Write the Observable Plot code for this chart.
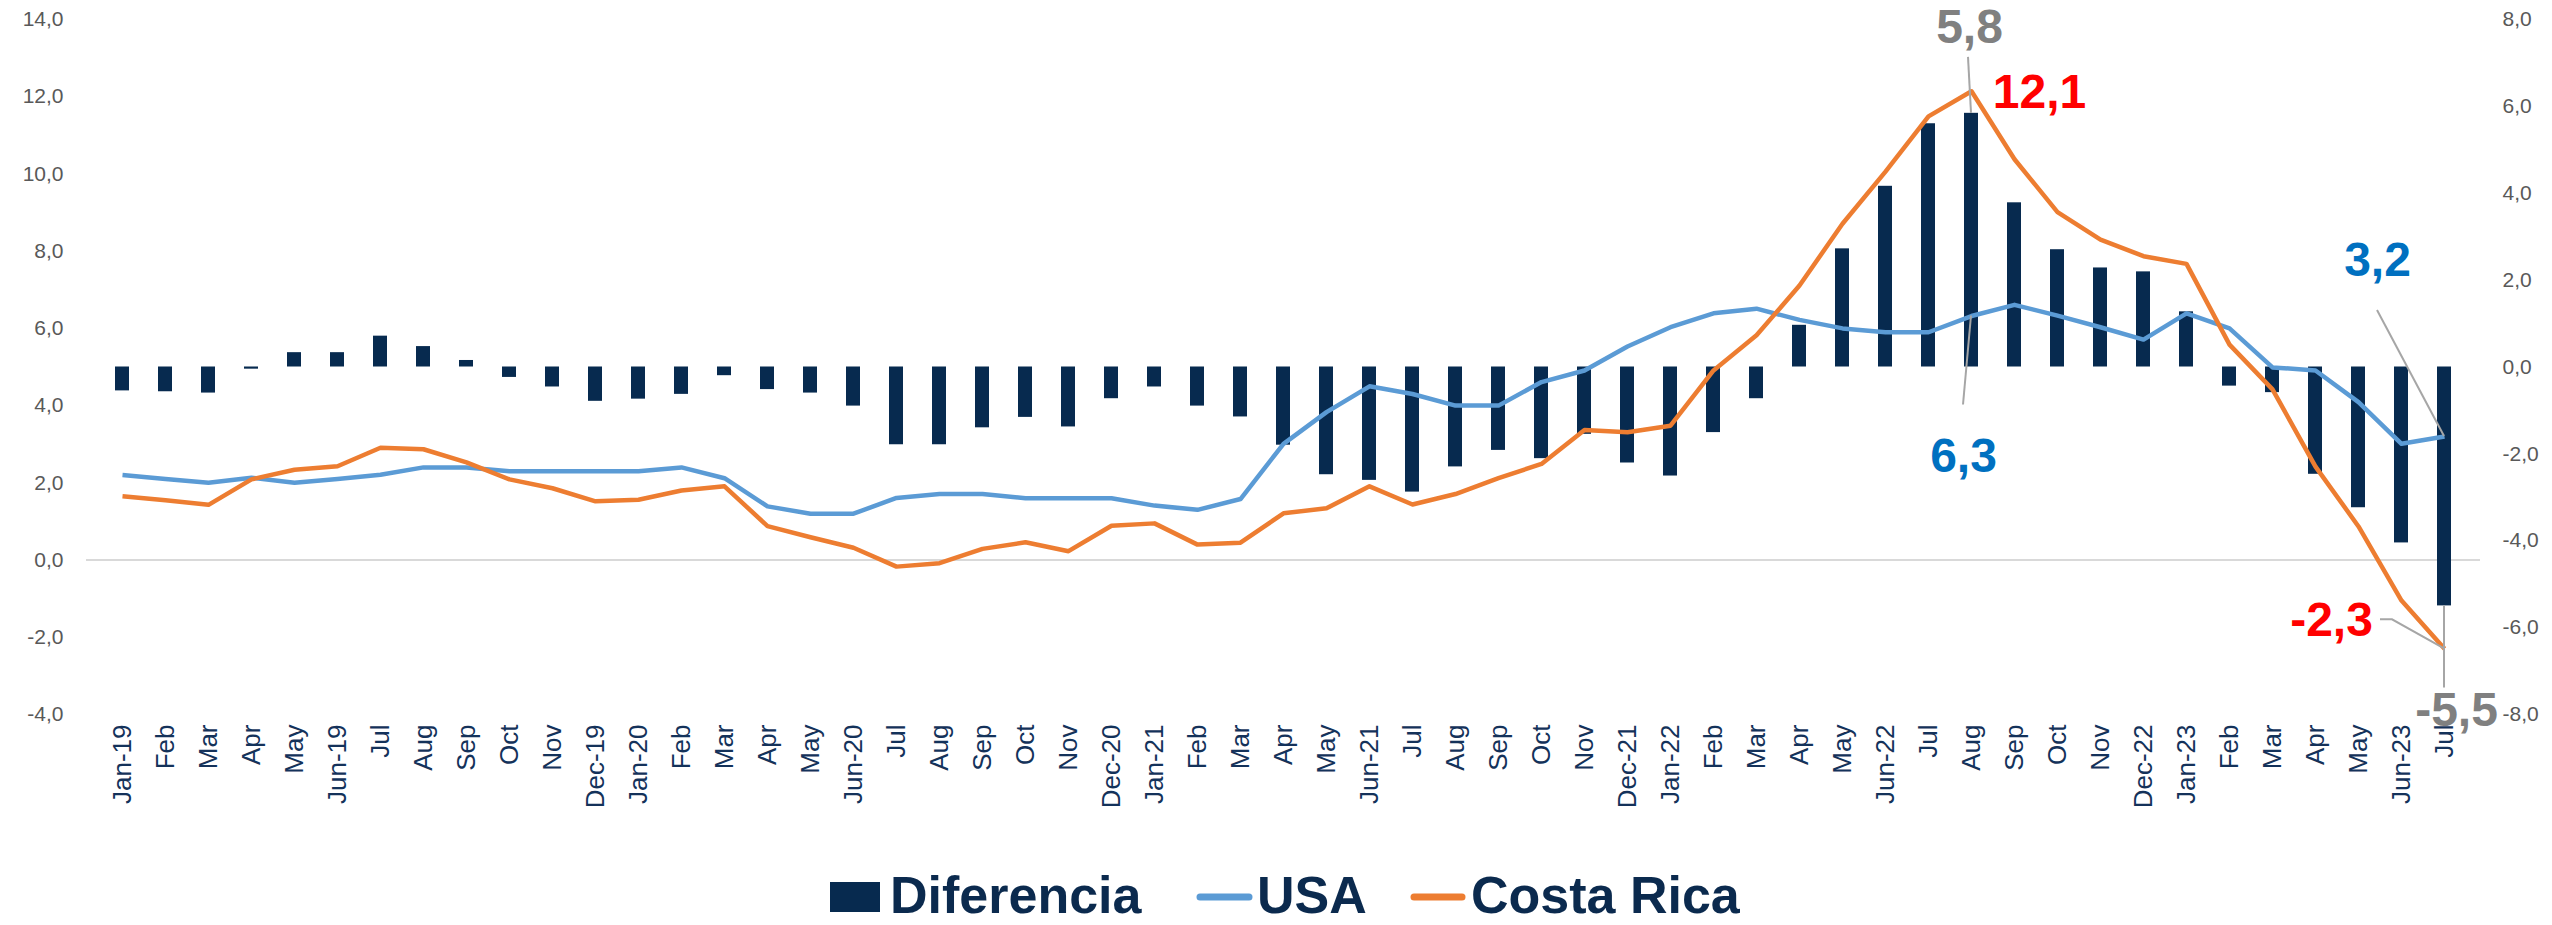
<!DOCTYPE html>
<html>
<head>
<meta charset="utf-8">
<script src="https://cdn.jsdelivr.net/npm/d3@7"></script>
<script src="https://cdn.jsdelivr.net/npm/@observablehq/plot@0.6"></script>
<style>
  body { margin: 0; background: #ffffff; }
  #chart { position: relative; width: 2552px; height: 925px; background: #ffffff; }
  #chart svg { display: block; }
</style>
</head>
<body>
<div id="chart"></div>
<script>
// ---------------- data ----------------
const months = ["Jan-19","Feb","Mar","Apr","May","Jun-19","Jul","Aug","Sep","Oct","Nov","Dec-19",
  "Jan-20","Feb","Mar","Apr","May","Jun-20","Jul","Aug","Sep","Oct","Nov","Dec-20",
  "Jan-21","Feb","Mar","Apr","May","Jun-21","Jul","Aug","Sep","Oct","Nov","Dec-21",
  "Jan-22","Feb","Mar","Apr","May","Jun-22","Jul","Aug","Sep","Oct","Nov","Dec-22",
  "Jan-23","Feb","Mar","Apr","May","Jun-23","Jul"];

const usa = [2.2,2.1,2.0,2.13,2.0,2.1,2.21,2.4,2.4,2.3,2.3,2.3,
  2.3,2.4,2.12,1.39,1.2,1.2,1.61,1.71,1.71,1.6,1.6,1.6,
  1.41,1.3,1.58,3.01,3.83,4.5,4.3,4.0,4.0,4.61,4.91,5.53,
  6.03,6.39,6.51,6.22,6.0,5.9,5.9,6.32,6.61,6.33,6.03,5.71,
  6.39,6.0,4.99,4.91,4.09,3.01,3.2];

const costaRica = [1.65,1.55,1.43,2.09,2.34,2.43,2.91,2.87,2.53,2.09,1.86,1.52,
  1.56,1.8,1.91,0.88,0.59,0.32,-0.17,-0.08,0.29,0.46,0.23,0.89,
  0.95,0.4,0.45,1.21,1.34,1.91,1.44,1.71,2.12,2.49,3.37,3.31,
  3.48,4.91,5.82,7.11,8.71,10.06,11.49,12.14,10.38,9.01,8.3,7.87,
  7.67,5.58,4.42,2.42,0.87,-1.05,-2.3];

const diferencia = [-0.55,-0.57,-0.6,-0.05,0.33,0.33,0.71,0.47,0.15,-0.24,-0.46,-0.79,
  -0.74,-0.63,-0.2,-0.52,-0.6,-0.9,-1.79,-1.79,-1.4,-1.16,-1.38,-0.73,
  -0.46,-0.9,-1.15,-1.8,-2.48,-2.61,-2.88,-2.3,-1.92,-2.11,-1.55,-2.21,
  -2.51,-1.51,-0.73,0.96,2.72,4.16,5.6,5.84,3.78,2.7,2.28,2.19,
  1.27,-0.44,-0.59,-2.47,-3.24,-4.05,-5.5];

const seriesNames = ["Diferencia", "USA", "Costa Rica"];
const leftTicks = [-4, -2, 0, 2, 4, 6, 8, 10, 12, 14];
const rightTicks = [-8, -6, -4, -2, 0, 2, 4, 6, 8];

// ---------------- helpers ----------------
const fmt = v => (Math.round(v * 10) / 10).toFixed(1).replace(".", ",");
// right axis (-8..8) mapped onto left axis (-4..14): right 0 sits at left 5
const toLeft = r => 5 + r * 18 / 16;
const fromLeft = l => (l - 5) * 16 / 18;

const rows = months.map((m, i) => ({i, m, usa: usa[i], cr: costaRica[i], dif: diferencia[i]}));

const NAVY = "#072a4f";
const BLUE = "#5b9bd5";
const ORANGE = "#ed7d31";
const last = months.length - 1;
const peak = 43; // Aug-22

// annotations: anchored on a data point, with a pixel layout kept separately
const annots = [
  {i: peak, v: toLeft(diferencia[peak]), t: fmt(diferencia[peak]), color: "#808080", dx: -2, dy: -86, leader: [[-3, -56], [0, 0]]},
  {i: peak, v: costaRica[peak], t: fmt(costaRica[peak]), color: "#ff0000", dx: 68, dy: 1, leader: null},
  {i: peak, v: usa[peak], t: fmt(usa[peak]), color: "#0070c0", dx: -8, dy: 141, leader: [[0, 0], [-8, 89]]},
  {i: last, v: usa[last], t: fmt(usa[last]), color: "#0070c0", dx: -67, dy: -176, leader: [[-67, -126], [0, 0]]},
  {i: last, v: costaRica[last], t: fmt(costaRica[last]), color: "#ff0000", dx: -113, dy: -28, leader: [[-64, -29], [-52, -29], [0, 0]]},
  {i: last, v: toLeft(diferencia[last]), t: fmt(diferencia[last]), color: "#808080", dx: 12, dy: 105, leader: [[0, 0], [0, 82]]}
];

const leaders = (index, scales) => {
  const g = d3.create("svg:g");
  const x = scales.x, y = scales.y;
  const bw = x.bandwidth ? x.bandwidth() : 0;
  for (const a of annots) {
    if (!a.leader) continue;
    const cx = x(a.i) + bw / 2, cy = y(a.v);
    g.append("path")
      .attr("d", d3.line()(a.leader.map(([dx, dy]) => [cx + dx, cy + dy])))
      .attr("fill", "none")
      .attr("stroke", "#a6a6a6")
      .attr("stroke-width", 2);
  }
  return g.node();
};

const plot = Plot.plot({
  width: 2552,
  height: 825,
  marginLeft: 86,
  marginRight: 72,
  marginTop: 19,
  marginBottom: 111,
  style: {fontFamily: "'Liberation Sans', Arial, sans-serif", background: "#ffffff", overflow: "visible"},
  x: {type: "band", domain: d3.range(months.length), paddingInner: 0.67, paddingOuter: 0.335},
  y: {domain: [-4, 14]},
  marks: [
    Plot.ruleY([0], {stroke: "#d9d9d9", strokeWidth: 2}),
    Plot.barY(rows, {x: "i", y1: () => toLeft(0), y2: d => toLeft(d.dif), fill: NAVY}),
    Plot.lineY(rows, {x: "i", y: "usa", stroke: BLUE, strokeWidth: 4.5, strokeLinejoin: "round", strokeLinecap: "butt"}),
    Plot.lineY(rows, {x: "i", y: "cr", stroke: ORANGE, strokeWidth: 4.5, strokeLinejoin: "round", strokeLinecap: "butt"}),
    Plot.axisY({anchor: "left", ticks: leftTicks, tickSize: 0, tickPadding: 23, tickFormat: fmt, fontSize: 21, fill: "#595959", label: null}),
    Plot.axisY({anchor: "right", ticks: rightTicks.map(toLeft), tickSize: 0, tickPadding: 22, tickFormat: t => fmt(fromLeft(t)), fontSize: 21, fill: "#595959", label: null}),
    Plot.axisX({anchor: "bottom", tickSize: 0, tickPadding: 10, tickRotate: -90, tickFormat: i => months[i], fontSize: 26, fill: "#14325a", label: null}),
    leaders,
    ...annots.map(a => Plot.text([a], {x: "i", y: "v", text: "t", dx: a.dx, dy: a.dy, fill: a.color, fontSize: 48, fontWeight: "bold", textAnchor: "middle", fontFamily: "'Liberation Sans Narrow', 'Liberation Sans', Arial, sans-serif"}))
  ]
});

const chart = document.getElementById("chart");
chart.appendChild(plot);

// ---------------- legend (below the plot) ----------------
const LEG_TOP = 825;
const leg = d3.create("svg").attr("width", 2552).attr("height", 100)
  .style("font-family", "'Liberation Sans', Arial, sans-serif");
const legColor = "#0b2a4e";
const base = 913 - LEG_TOP;
leg.append("rect").attr("x", 830).attr("y", base - 31).attr("width", 50).attr("height", 30).attr("fill", NAVY);
leg.append("text").attr("x", 890).attr("y", base).attr("font-size", 52).attr("font-weight", "bold").attr("fill", legColor).text(seriesNames[0]);
leg.append("line").attr("x1", 1200).attr("x2", 1249).attr("y1", base - 16).attr("y2", base - 16).attr("stroke", BLUE).attr("stroke-width", 7).attr("stroke-linecap", "round");
leg.append("text").attr("x", 1257).attr("y", base).attr("font-size", 52).attr("font-weight", "bold").attr("fill", legColor).text(seriesNames[1]);
leg.append("line").attr("x1", 1414).attr("x2", 1462).attr("y1", base - 16).attr("y2", base - 16).attr("stroke", ORANGE).attr("stroke-width", 7).attr("stroke-linecap", "round");
leg.append("text").attr("x", 1471).attr("y", base).attr("font-size", 52).attr("font-weight", "bold").attr("fill", legColor).text(seriesNames[2]);
chart.appendChild(leg.node());
</script>
</body>
</html>
